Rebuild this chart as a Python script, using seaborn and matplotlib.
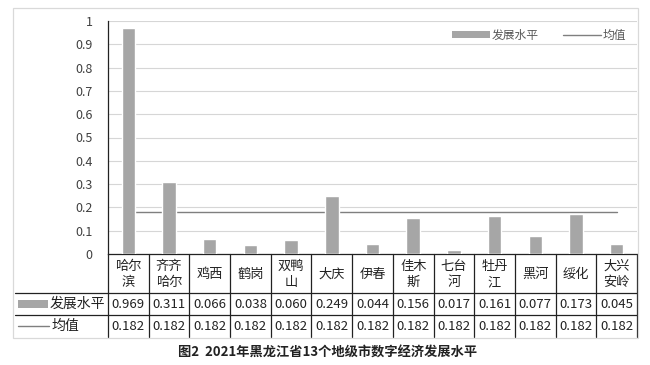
import matplotlib
matplotlib.use("Agg")
import matplotlib.pyplot as plt
import matplotlib.transforms as mtransforms
from matplotlib.patches import Rectangle, Patch
from matplotlib.lines import Line2D
import seaborn as sns
import pandas as pd

# data
cities = ["哈尔滨", "齐齐哈尔", "鸡西", "鹤岗", "双鸭山", "大庆", "伊春",
          "佳木斯", "七台河", "牡丹江", "黑河", "绥化", "大兴安岭"]
levels = [0.969, 0.311, 0.066, 0.038, 0.060, 0.249, 0.044,
          0.156, 0.017, 0.161, 0.077, 0.173, 0.045]
means = [0.182] * 13
series_names = ["发展水平", "均值"]
yticks = [0, 0.1, 0.2, 0.3, 0.4, 0.5, 0.6, 0.7, 0.8, 0.9, 1]
caption = "图2  2021年黑龙江省13个地级市数字经济发展水平"

sns.set_theme(style="white")
plt.rcParams["font.family"] = ["Noto Sans CJK SC", "DejaVu Sans"]

W, H = 650, 365
BAR = "#a6a6a6"
LINE = "#7f7f7f"
TXT = "#222222"


def fx(x):
    return x / W


def fy(y):
    return 1 - y / H


df = pd.DataFrame({"city": cities, "level": levels})

fig = plt.figure(figsize=(W / 100, H / 100), dpi=100)
# plot area in pixels: x 108..637, y 21..254
ax = fig.add_axes([fx(108), fy(254), fx(637) - fx(108), (254 - 21) / H])

ax.plot(range(len(cities)), means, color=LINE, lw=1, zorder=2)
sns.barplot(data=df, x="city", y="level", color=BAR, width=0.33,
            saturation=1, ax=ax, zorder=3)

ax.set_xlim(-0.5, len(cities) - 0.5)
ax.set_ylim(0, 1)
ax.set_yticks(yticks)
ax.set_yticklabels([f"{t:g}" for t in yticks], fontsize=9, color="#404040")
ax.tick_params(axis="y", length=0, pad=11)
ax.set_xticks([])
ax.set_xlabel("")
ax.set_ylabel("")
ax.set_axisbelow(True)
ax.yaxis.grid(True, color="#d6d6d6", lw=0.8)
for s in ["top", "right"]:
    ax.spines[s].set_visible(False)
ax.spines["left"].set_color("#222222")
ax.spines["left"].set_linewidth(0.9)
ax.spines["bottom"].set_color("#222222")
ax.spines["bottom"].set_linewidth(0.9)

# legend at top right
handles = [Patch(facecolor=BAR, edgecolor="none"),
           Line2D([0], [0], color=LINE, lw=1)]
ax.legend(handles, series_names, ncol=2, frameon=False, loc="center right",
          bbox_to_anchor=(1.0, 0.94), fontsize=8.5, labelcolor="#595959",
          handlelength=3.2, handleheight=0.55, handletextpad=0.2,
          columnspacing=2.0)

# outer chart frame
fig.patches.append(Rectangle((fx(13), fy(338)), fx(638) - fx(13),
                             fy(8) - fy(338), transform=fig.transFigure,
                             fill=False, edgecolor="#d9d9d9", lw=0.9))

# data table under the axis
trans = mtransforms.blended_transform_factory(ax.transData, fig.transFigure)
row_y = [254, 293, 315, 337]
left_px = 15
col_px = (637 - 108) / len(cities)
left_x = -0.5 - (108 - left_px) / col_px
for i in range(len(cities) + 1):
    ax.add_line(Line2D([i - 0.5, i - 0.5], [fy(row_y[0]), fy(row_y[-1])],
                       transform=trans, color="#222222", lw=0.9,
                       clip_on=False))
for y in row_y[1:3]:
    ax.add_line(Line2D([left_x, len(cities) - 0.5], [fy(y), fy(y)],
                       transform=trans, color="#222222", lw=0.9,
                       clip_on=False))

for i, name in enumerate(cities):
    wrapped = "\n".join(name[k:k + 2] for k in range(0, len(name), 2))
    ax.text(i, fy((row_y[0] + row_y[1]) / 2 + 1), wrapped, transform=trans,
            ha="center", va="center", fontsize=9.5, color=TXT,
            linespacing=1.35, clip_on=False)
    ax.text(i, fy((row_y[1] + row_y[2]) / 2), f"{levels[i]:.3f}",
            transform=trans, ha="center", va="center", fontsize=9.5,
            color=TXT, clip_on=False)
    ax.text(i, fy((row_y[2] + row_y[3]) / 2), f"{means[i]:.3f}",
            transform=trans, ha="center", va="center", fontsize=9.5,
            color=TXT, clip_on=False)

# row headers with legend keys
r1 = (row_y[1] + row_y[2]) / 2
r2 = (row_y[2] + row_y[3]) / 2
fig.patches.append(Rectangle((fx(18), fy(r1 + 4)), fx(30), 8 / H,
                             transform=fig.transFigure, facecolor=BAR,
                             edgecolor="none"))
fig.text(fx(50), fy(r1), series_names[0], ha="left", va="center",
         fontsize=10, color=TXT)
fig.add_artist(Line2D([fx(18), fx(49)], [fy(r2), fy(r2)], color=LINE, lw=1))
fig.text(fx(52), fy(r2), series_names[1], ha="left", va="center",
         fontsize=10, color=TXT)

fig.text(fx(328), fy(353), caption, ha="center", va="center", fontsize=9.5,
         fontweight="bold", color="#222222")

fig.savefig("out.png", dpi=100)
plt.close("all")
